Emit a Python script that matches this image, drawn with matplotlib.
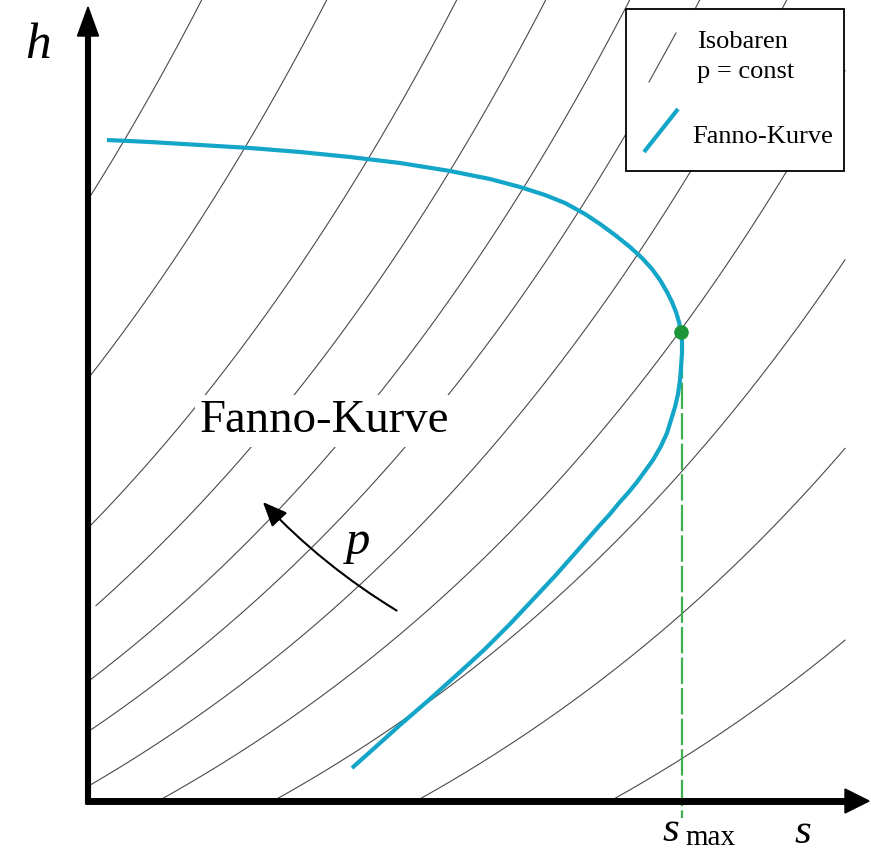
"""
h-s-Diagramm: Fanno-Kurve mit Isobaren (Schema)
"""
import numpy as np
import matplotlib
matplotlib.use("Agg")
import matplotlib.pyplot as plt
from matplotlib.patches import Polygon, Rectangle, FancyArrowPatch

plt.rcParams["font.family"] = ["Liberation Serif", "DejaVu Serif"]
plt.rcParams["lines.scale_dashes"] = False

# --- Daten (Einheiten: Pixel ab Ursprung des Diagramms) ---
# Isobaren p = const: Schnittpunkt mit h = 0 (links vom Ursprung -> virtuell)
iso_s0    = [-609, -484, -354, -265, -181, -111, -24, 72, 187, 330, 524]
iso_start = [0, 0, 0, 8, 0, 0, 0, 72, 187, 330, 524]
iso_end   = 757
ISO_H, ISO_W = 324.0, 581.0   # Form der Isobaren h = H*(exp((s-s0)/W)-1)

# Fanno-Kurve (Bildpixel x, y): oberer Ast -> s_max -> unterer Ast
fanno_x = [107, 150, 200, 250, 300, 350, 400, 450, 490, 520, 545, 565, 585, 600,
           615, 630, 642, 652, 660, 667, 672, 676, 679, 681,
           682, 682, 681, 680, 678, 675, 671, 667, 661, 653, 645, 637, 628, 619,
           610, 600, 585, 570, 555, 540, 525, 510, 497, 485, 472, 460, 430, 400,
           370, 352]
fanno_y = [140, 142, 145, 148, 152, 157, 163, 171, 179, 187, 195, 203, 214, 224,
           235, 247, 258, 269, 280, 292, 302, 312, 322, 332,
           342, 353, 367, 380, 394, 407, 420, 433, 446, 460, 471, 482, 493, 503,
           514, 525, 542, 559, 576, 592, 608, 624, 637, 649, 661, 672, 699, 725,
           752, 768]
smax_x, smax_y = 681, 332

CYAN = "#13a6c8"
GREEN_DOT = "#1c9638"
GREEN_LINE = "#3fae4f"
GRAY = "#4a4a4a"

fig = plt.figure(figsize=(8.71, 8.52), dpi=100)
ax = fig.add_axes([0, 0, 1, 1])
ax.set_xlim(-88, 783)
ax.set_ylim(-52, 800)
ax.axis("off")

def px(x, y):
    # Pixelposition im Bild -> Datenkoordinaten (s, h)
    return x - 88, 800 - y

# Isobaren
for s0, st in zip(iso_s0, iso_start):
    s = np.linspace(st, iso_end, 300)
    h = ISO_H * (np.exp((s - s0) / ISO_W) - 1)
    ax.plot(s, h, color=GRAY, lw=0.8, zorder=1)

# Fanno-Kurve
fanno_s, fanno_h = px(np.array(fanno_x), np.array(fanno_y))
s_max, h_smax = px(smax_x, smax_y)
ax.plot(fanno_s, fanno_h, color=CYAN, lw=3.0, zorder=4, solid_capstyle="butt",
        solid_joinstyle="round")
ax.plot([s_max + 1, s_max + 1], [h_smax - 20, -18], color=GREEN_LINE, lw=1.6,
        dashes=(19, 3), zorder=3)
ax.plot([s_max], [h_smax], "o", color=GREEN_DOT, ms=9.5, zorder=5)

# Achsen mit Pfeilen
ax.plot([0, 0], [-4, 768], color="black", lw=4.4, solid_capstyle="butt", zorder=6)
ax.plot([-3, 762], [-1, -1], color="black", lw=5.0, solid_capstyle="butt", zorder=6)
ax.add_patch(Polygon([px(88, 7), px(77.5, 36), px(98.5, 36)], closed=True,
                     color="black", zorder=7))
ax.add_patch(Polygon([px(869, 801), px(845, 789), px(845, 813)], closed=True,
                     color="black", zorder=7))

# Beschriftungen
ax.text(*px(38, 46), "h", fontsize=37, style="italic", ha="center", va="center")
ax.text(*px(803, 833), "s", fontsize=31, style="italic", ha="center", va="center")
ax.text(*px(662, 841), "s", fontsize=31, style="italic", ha="left", va="baseline")
ax.text(*px(685, 845), "max", fontsize=21, ha="left", va="baseline")
ax.text(*px(200, 432), "Fanno-Kurve", fontsize=33.7, ha="left", va="baseline", zorder=8,
        bbox=dict(boxstyle="square,pad=0.1", fc="white", ec="none"))
ax.text(*px(358, 542), "p", fontsize=35, style="italic", ha="center", va="center")

# Pfeil: Richtung steigender Druck
ax.add_patch(FancyArrowPatch(px(399, 612), px(261, 500),
                             connectionstyle="arc3,rad=-0.07",
                             arrowstyle="-|>,head_length=0.75,head_width=0.32",
                             mutation_scale=20, lw=1.5, color="black", zorder=6))

# Legende
x0, y0 = px(626, 171)
ax.add_patch(Rectangle((x0, y0), 218, 162, fc="white", ec="black", lw=1.3, zorder=9))
ax.plot(*zip(px(649, 82), px(676, 33)), color=GRAY, lw=0.8, zorder=10)
ax.plot(*zip(px(644, 152), px(678, 109)), color=CYAN, lw=3.0, zorder=10,
        solid_capstyle="butt")
ax.text(*px(697, 48), "Isobaren", fontsize=19, ha="left", va="baseline", zorder=10)
ax.text(*px(697, 78), "p = const", fontsize=19, ha="left", va="baseline", zorder=10)
ax.text(*px(692, 143), "Fanno-Kurve", fontsize=19, ha="left", va="baseline", zorder=10)

fig.savefig("out.png", dpi=100)
plt.close(fig)
